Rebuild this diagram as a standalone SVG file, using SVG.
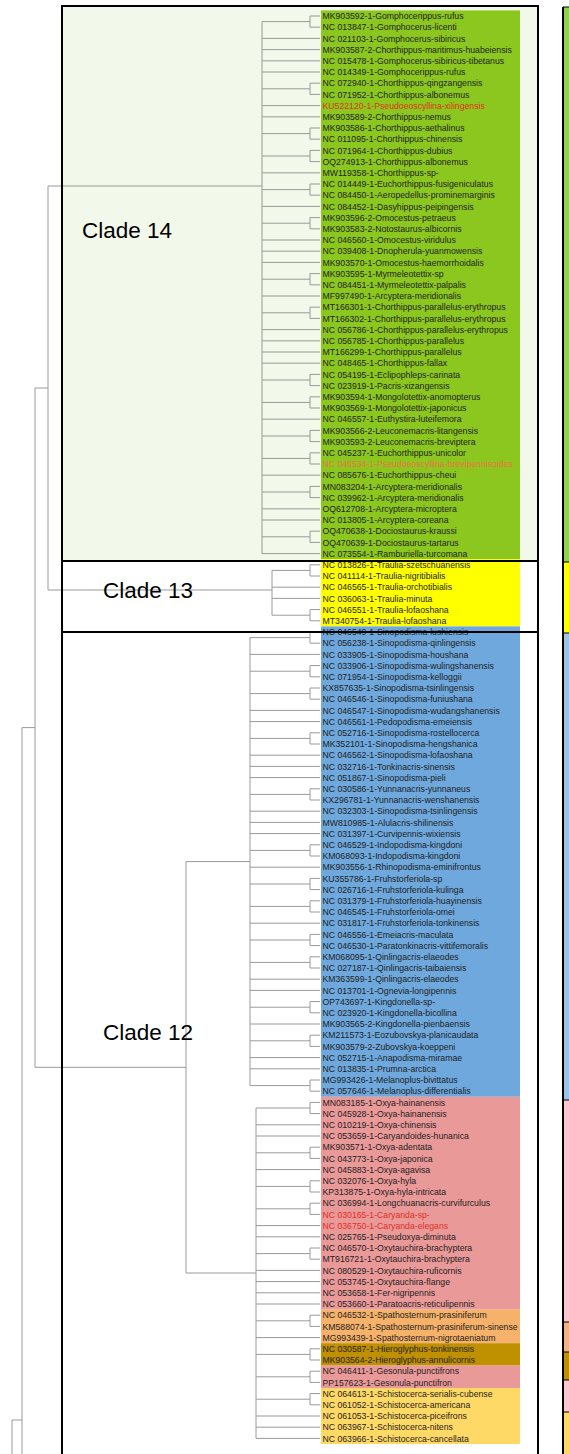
<svg xmlns="http://www.w3.org/2000/svg" width="569" height="1454" viewBox="0 0 569 1454">
<style>
.t{font-family:"Liberation Sans",Arial,sans-serif;font-size:8.7px;fill:#1e1e1e}
.r{fill:#e0301e}
.o{fill:#f07040}
.tree{stroke:#9a9a9a;stroke-width:1;fill:none}
.cl{font-family:"Liberation Sans",Arial,sans-serif;font-size:22.5px;fill:#000}
.box{fill:none;stroke:#000;stroke-width:2}
.sep{stroke:#000;stroke-width:1}
</style>
<rect x="0" y="0" width="569" height="1454" fill="#fff"/>
<g id="clade14-bg"><rect x="62" y="6" width="476" height="555" fill="#f2f8ea"/></g>
<g id="label-bg">
<rect x="321" y="10.4" width="199" height="548.8" fill="#8cc720"/>
<rect x="321" y="559.2" width="199" height="67.2" fill="#ffff00"/>
<rect x="321" y="626.4" width="199" height="470.4" fill="#6fa8dc"/>
<rect x="321" y="1096.8" width="199" height="212.8" fill="#ea9999"/>
<rect x="321" y="1309.6" width="199" height="33.6" fill="#f6b26b"/>
<rect x="321" y="1343.2" width="199" height="22.4" fill="#bf9000"/>
<rect x="321" y="1365.6" width="199" height="22.4" fill="#ea9999"/>
<rect x="321" y="1388" width="199" height="56" fill="#ffd966"/>
</g>
<g id="connectors" class="tree">
<path d="M310,16V27.2M310,16H320M310,27.2H320M310,83.2V94.4M310,83.2H320M310,94.4H320M310,128V139.2M310,128H320M310,139.2H320M310,150.4V161.6M310,150.4H320M310,161.6H320M310,184V195.2M310,184H320M310,195.2H320M310,217.6V228.8M310,217.6H320M310,228.8H320M310,273.6V284.8M310,273.6H320M310,284.8H320M310,307.2V318.4M310,307.2H320M310,318.4H320M310,374.4V385.6M310,374.4H320M310,385.6H320M310,396.8V408M310,396.8H320M310,408H320M310,430.4V441.6M310,430.4H320M310,441.6H320M310,452.8V464M310,452.8H320M310,464H320M310,486.4V497.6M310,486.4H320M310,497.6H320M310,531.2V542.4M310,531.2H320M310,542.4H320"/>
<path d="M262,21.6V553.6M262,21.6H310M262,38.4H320M262,49.6H320M262,60.8H320M262,72H320M262,88.8H310M262,105.6H320M262,116.8H320M262,133.6H310M262,156H310M262,172.8H320M262,189.6H310M262,206.4H320M262,223.2H310M262,240H320M262,251.2H320M262,262.4H320M262,279.2H310M262,296H320M262,312.8H310M262,329.6H320M262,340.8H320M262,352H320M262,363.2H320M262,380H310M262,402.4H310M262,419.2H320M262,436H310M262,458.4H310M262,475.2H320M262,492H310M262,508.8H320M262,520H320M262,536.8H310M262,553.6H320"/>
<path d="M310,564.8V576M310,564.8H320M310,576H320M310,609.6V620.8M310,609.6H320M310,620.8H320M272,570.4V615.2M272,570.4H310M272,587.2H320M272,598.4H320M272,615.2H310"/>
<path d="M310,632V643.2M310,632H320M310,643.2H320M310,665.6V676.8M310,665.6H320M310,676.8H320M310,688V699.2M310,688H320M310,699.2H320M310,732.8V744M310,732.8H320M310,744H320M310,788.8V800M310,788.8H320M310,800H320M310,844.8V856M310,844.8H320M310,856H320M310,878.4V889.6M310,878.4H320M310,889.6H320M310,900.8V912M310,900.8H320M310,912H320M310,934.4V945.6M310,934.4H320M310,945.6H320M310,956.8V968M310,956.8H320M310,968H320M310,1001.6V1012.8M310,1001.6H320M310,1012.8H320M310,1035.2V1046.4M310,1035.2H320M310,1046.4H320M310,1080V1091.2M310,1080H320M310,1091.2H320M310,1102.4V1113.6M310,1102.4H320M310,1113.6H320M310,1147.2V1158.4M310,1147.2H320M310,1158.4H320M310,1180.8V1192M310,1180.8H320M310,1192H320M310,1203.2V1214.4M310,1203.2H320M310,1214.4H320M310,1248V1259.2M310,1248H320M310,1259.2H320M310,1315.2V1326.4M310,1315.2H320M310,1326.4H320M310,1348.8V1360M310,1348.8H320M310,1360H320M310,1371.2V1382.4M310,1371.2H320M310,1382.4H320M310,1393.6V1404.8M310,1393.6H320M310,1404.8H320"/>
<path d="M250,637.6V1085.6M250,637.6H310M250,654.4H320M250,671.2H310M250,693.6H310M250,710.4H320M250,721.6H320M250,738.4H310M250,755.2H320M250,766.4H320M250,777.6H320M250,794.4H310M250,811.2H320M250,822.4H320M250,833.6H320M250,850.4H310M250,867.2H320M250,884H310M250,906.4H310M250,923.2H320M250,940H310M250,962.4H310M250,979.2H320M250,990.4H320M250,1007.2H310M250,1024H320M250,1040.8H310M250,1057.6H320M250,1068.8H320M250,1085.6H310"/>
<path d="M256,1108V1438.4M256,1108H310M256,1124.8H320M256,1136H320M256,1152.8H310M256,1169.6H320M256,1186.4H310M256,1208.8H310M256,1225.6H320M256,1236.8H320M256,1253.6H310M256,1270.4H320M256,1281.6H320M256,1292.8H320M256,1304H320M256,1320.8H310M256,1337.6H320M256,1354.4H310M256,1376.8H310M256,1399.2H310M256,1416H320M256,1427.2H320M256,1438.4H320"/>
<path d="M262,186H48V590H272M35,388H48M186,861.6V1273M186,861.6H250M186,1273H256M35,388V1067.3H186M22,727.6V1454M22,727.6H35M12,1420V1454M12,1420H22"/>
</g>
<g id="labels" class="t">
<text x="322.5" y="19.1">MK903592-1-Gomphocerippus-rufus</text>
<text x="322.5" y="30.3">NC 013847-1-Gomphocerus-licenti</text>
<text x="322.5" y="41.5">NC 021103-1-Gomphocerus-sibiricus</text>
<text x="322.5" y="52.7">MK903587-2-Chorthippus-maritimus-huabeiensis</text>
<text x="322.5" y="63.9">NC 015478-1-Gomphocerus-sibiricus-tibetanus</text>
<text x="322.5" y="75.1">NC 014349-1-Gomphocerippus-rufus</text>
<text x="322.5" y="86.3">NC 072940-1-Chorthippus-qingzangensis</text>
<text x="322.5" y="97.5">NC 071952-1-Chorthippus-albonemus</text>
<text x="322.5" y="108.7" class="r">KU522120-1-Pseudoeoscyllina-xilingensis</text>
<text x="322.5" y="119.9">MK903589-2-Chorthippus-nemus</text>
<text x="322.5" y="131.1">MK903586-1-Chorthippus-aethalinus</text>
<text x="322.5" y="142.3">NC 011095-1-Chorthippus-chinensis</text>
<text x="322.5" y="153.5">NC 071964-1-Chorthippus-dubius</text>
<text x="322.5" y="164.7">OQ274913-1-Chorthippus-albonemus</text>
<text x="322.5" y="175.9">MW119358-1-Chorthippus-sp-</text>
<text x="322.5" y="187.1">NC 014449-1-Euchorthippus-fusigeniculatus</text>
<text x="322.5" y="198.3">NC 084450-1-Aeropedellus-prominemarginis</text>
<text x="322.5" y="209.5">NC 084452-1-Dasyhippus-peipingensis</text>
<text x="322.5" y="220.7">MK903596-2-Omocestus-petraeus</text>
<text x="322.5" y="231.9">MK903583-2-Notostaurus-albicornis</text>
<text x="322.5" y="243.1">NC 046560-1-Omocestus-viridulus</text>
<text x="322.5" y="254.3">NC 039408-1-Dnopherula-yuanmowensis</text>
<text x="322.5" y="265.5">MK903570-1-Omocestus-haemorrhoidalis</text>
<text x="322.5" y="276.7">MK903595-1-Myrmeleotettix-sp</text>
<text x="322.5" y="287.9">NC 084451-1-Myrmeleotettix-palpalis</text>
<text x="322.5" y="299.1">MF997490-1-Arcyptera-meridionalis</text>
<text x="322.5" y="310.3">MT166301-1-Chorthippus-parallelus-erythropus</text>
<text x="322.5" y="321.5">MT166302-1-Chorthippus-parallelus-erythropus</text>
<text x="322.5" y="332.7">NC 056786-1-Chorthippus-parallelus-erythropus</text>
<text x="322.5" y="343.9">NC 056785-1-Chorthippus-parallelus</text>
<text x="322.5" y="355.1">MT166299-1-Chorthippus-parallelus</text>
<text x="322.5" y="366.3">NC 048465-1-Chorthippus-fallax</text>
<text x="322.5" y="377.5">NC 054195-1-Eclipophleps-carinata</text>
<text x="322.5" y="388.7">NC 023919-1-Pacris-xizangensis</text>
<text x="322.5" y="399.9">MK903594-1-Mongolotettix-anomopterus</text>
<text x="322.5" y="411.1">MK903569-1-Mongolotettix-japonicus</text>
<text x="322.5" y="422.3">NC 046557-1-Euthystira-luteifemora</text>
<text x="322.5" y="433.5">MK903566-2-Leuconemacris-litangensis</text>
<text x="322.5" y="444.7">MK903593-2-Leuconemacris-breviptera</text>
<text x="322.5" y="455.9">NC 045237-1-Euchorthippus-unicolor</text>
<text x="322.5" y="467.1" class="o">NC 046534-1-Pseudoeoscyllina-brevipennisoides</text>
<text x="322.5" y="478.3">NC 085676-1-Euchorthippus-cheui</text>
<text x="322.5" y="489.5">MN083204-1-Arcyptera-meridionalis</text>
<text x="322.5" y="500.7">NC 039962-1-Arcyptera-meridionalis</text>
<text x="322.5" y="511.9">OQ612708-1-Arcyptera-microptera</text>
<text x="322.5" y="523.1">NC 013805-1-Arcyptera-coreana</text>
<text x="322.5" y="534.3">OQ470638-1-Dociostaurus-kraussi</text>
<text x="322.5" y="545.5">OQ470639-1-Dociostaurus-tartarus</text>
<text x="322.5" y="556.7">NC 073554-1-Ramburiella-turcomana</text>
<text x="322.5" y="567.9">NC 013826-1-Traulia-szetschuanensis</text>
<text x="322.5" y="579.1">NC 041114-1-Traulia-nigritibialis</text>
<text x="322.5" y="590.3">NC 046565-1-Traulia-orchotibialis</text>
<text x="322.5" y="601.5">NC 036063-1-Traulia-minuta</text>
<text x="322.5" y="612.7">NC 046551-1-Traulia-lofaoshana</text>
<text x="322.5" y="623.9">MT340754-1-Traulia-lofaoshana</text>
<text x="322.5" y="635.1">NC 046549-1-Sinopodisma-lushiensis</text>
<text x="322.5" y="646.3">NC 056238-1-Sinopodisma-qinlingensis</text>
<text x="322.5" y="657.5">NC 033905-1-Sinopodisma-houshana</text>
<text x="322.5" y="668.7">NC 033906-1-Sinopodisma-wulingshanensis</text>
<text x="322.5" y="679.9">NC 071954-1-Sinopodisma-kelloggii</text>
<text x="322.5" y="691.1">KX857635-1-Sinopodisma-tsinlingensis</text>
<text x="322.5" y="702.3">NC 046546-1-Sinopodisma-funiushana</text>
<text x="322.5" y="713.5">NC 046547-1-Sinopodisma-wudangshanensis</text>
<text x="322.5" y="724.7">NC 046561-1-Pedopodisma-emeiensis</text>
<text x="322.5" y="735.9">NC 052716-1-Sinopodisma-rostellocerca</text>
<text x="322.5" y="747.1">MK352101-1-Sinopodisma-hengshanica</text>
<text x="322.5" y="758.3">NC 046562-1-Sinopodisma-lofaoshana</text>
<text x="322.5" y="769.5">NC 032716-1-Tonkinacris-sinensis</text>
<text x="322.5" y="780.7">NC 051867-1-Sinopodisma-pieli</text>
<text x="322.5" y="791.9">NC 030586-1-Yunnanacris-yunnaneus</text>
<text x="322.5" y="803.1">KX296781-1-Yunnanacris-wenshanensis</text>
<text x="322.5" y="814.3">NC 032303-1-Sinopodisma-tsinlingensis</text>
<text x="322.5" y="825.5">MW810985-1-Alulacris-shilinensis</text>
<text x="322.5" y="836.7">NC 031397-1-Curvipennis-wixiensis</text>
<text x="322.5" y="847.9">NC 046529-1-Indopodisma-kingdoni</text>
<text x="322.5" y="859.1">KM068093-1-Indopodisma-kingdoni</text>
<text x="322.5" y="870.3">MK903556-1-Rhinopodisma-eminifrontus</text>
<text x="322.5" y="881.5">KU355786-1-Fruhstorferiola-sp</text>
<text x="322.5" y="892.7">NC 026716-1-Fruhstorferiola-kulinga</text>
<text x="322.5" y="903.9">NC 031379-1-Fruhstorferiola-huayinensis</text>
<text x="322.5" y="915.1">NC 046545-1-Fruhstorferiola-omei</text>
<text x="322.5" y="926.3">NC 031817-1-Fruhstorferiola-tonkinensis</text>
<text x="322.5" y="937.5">NC 046556-1-Emeiacris-maculata</text>
<text x="322.5" y="948.7">NC 046530-1-Paratonkinacris-vittifemoralis</text>
<text x="322.5" y="959.9">KM068095-1-Qinlingacris-elaeodes</text>
<text x="322.5" y="971.1">NC 027187-1-Qinlingacris-taibaiensis</text>
<text x="322.5" y="982.3">KM363599-1-Qinlingacris-elaeodes</text>
<text x="322.5" y="993.5">NC 013701-1-Ognevia-longipennis</text>
<text x="322.5" y="1004.7">OP743697-1-Kingdonella-sp-</text>
<text x="322.5" y="1015.9">NC 023920-1-Kingdonella-bicollina</text>
<text x="322.5" y="1027.1">MK903565-2-Kingdonella-pienbaensis</text>
<text x="322.5" y="1038.3">KM211573-1-Eozubovskya-planicaudata</text>
<text x="322.5" y="1049.5">MK903579-2-Zubovskya-koeppeni</text>
<text x="322.5" y="1060.7">NC 052715-1-Anapodisma-miramae</text>
<text x="322.5" y="1071.9">NC 013835-1-Prumna-arctica</text>
<text x="322.5" y="1083.1">MG993426-1-Melanoplus-bivittatus</text>
<text x="322.5" y="1094.3">NC 057646-1-Melanoplus-differentialis</text>
<text x="322.5" y="1105.5">MN083185-1-Oxya-hainanensis</text>
<text x="322.5" y="1116.7">NC 045928-1-Oxya-hainanensis</text>
<text x="322.5" y="1127.9">NC 010219-1-Oxya-chinensis</text>
<text x="322.5" y="1139.1">NC 053659-1-Caryandoides-hunanica</text>
<text x="322.5" y="1150.3">MK903571-1-Oxya-adentata</text>
<text x="322.5" y="1161.5">NC 043773-1-Oxya-japonica</text>
<text x="322.5" y="1172.7">NC 045883-1-Oxya-agavisa</text>
<text x="322.5" y="1183.9">NC 032076-1-Oxya-hyla</text>
<text x="322.5" y="1195.1">KP313875-1-Oxya-hyla-intricata</text>
<text x="322.5" y="1206.3">NC 036994-1-Longchuanacris-curvifurculus</text>
<text x="322.5" y="1217.5" class="r">NC 030165-1-Caryanda-sp-</text>
<text x="322.5" y="1228.7" class="r">NC 036750-1-Caryanda-elegans</text>
<text x="322.5" y="1239.9">NC 025765-1-Pseudoxya-diminuta</text>
<text x="322.5" y="1251.1">NC 046570-1-Oxytauchira-brachyptera</text>
<text x="322.5" y="1262.3">MT916721-1-Oxytauchira-brachyptera</text>
<text x="322.5" y="1273.5">NC 080529-1-Oxytauchira-ruficornis</text>
<text x="322.5" y="1284.7">NC 053745-1-Oxytauchira-flange</text>
<text x="322.5" y="1295.9">NC 053658-1-Fer-nigripennis</text>
<text x="322.5" y="1307.1">NC 053660-1-Paratoacris-reticulipennis</text>
<text x="322.5" y="1318.3">NC 046532-1-Spathosternum-prasiniferum</text>
<text x="322.5" y="1329.5">KM588074-1-Spathosternum-prasiniferum-sinense</text>
<text x="322.5" y="1340.7">MG993439-1-Spathosternum-nigrotaeniatum</text>
<text x="322.5" y="1351.9">NC 030587-1-Hieroglyphus-tonkinensis</text>
<text x="322.5" y="1363.1">MK903564-2-Hieroglyphus-annulicornis</text>
<text x="322.5" y="1374.3">NC 046411-1-Gesonula-punctifrons</text>
<text x="322.5" y="1385.5">PP157623-1-Gesonula-punctifron</text>
<text x="322.5" y="1396.7">NC 064613-1-Schistocerca-serialis-cubense</text>
<text x="322.5" y="1407.9">NC 061052-1-Schistocerca-americana</text>
<text x="322.5" y="1419.1">NC 061053-1-Schistocerca-piceifrons</text>
<text x="322.5" y="1430.3">NC 063967-1-Schistocerca-nitens</text>
<text x="322.5" y="1441.5">NC 063966-1-Schistocerca-cancellata</text>
</g>
<g id="clade14"><rect class="box" x="62" y="6" width="476" height="555"/><text class="cl" x="82" y="238">Clade 14</text></g>
<g id="clade13"><rect class="box" x="62" y="561" width="476" height="71"/><text class="cl" x="103" y="598">Clade 13</text></g>
<g id="clade12"><rect class="box" x="62" y="632" width="476" height="830"/><text class="cl" x="103" y="1040">Clade 12</text></g>
<g id="side-bar">
<rect x="563" y="7" width="6" height="555" fill="#92d050"/>
<rect x="563" y="562" width="6" height="71" fill="#ffff00"/>
<rect x="563" y="633" width="6" height="467" fill="#9dc3e6"/>
<rect x="563" y="1100" width="6" height="222" fill="#ffc7ce"/>
<rect x="563" y="1322" width="6" height="30" fill="#f4b183"/>
<rect x="563" y="1352" width="6" height="28" fill="#bf9000"/>
<rect x="563" y="1380" width="6" height="32" fill="#ffc7ce"/>
<rect x="563" y="1412" width="6" height="42" fill="#ffd966"/>
<path class="sep" d="M563,7H569M563,562H569M563,633H569M563,1100H569M563,1322H569M563,1352H569M563,1380H569M563,1412H569"/>
<path d="M563,7V1454" stroke="#000" stroke-width="2"/>
</g>
</svg>
